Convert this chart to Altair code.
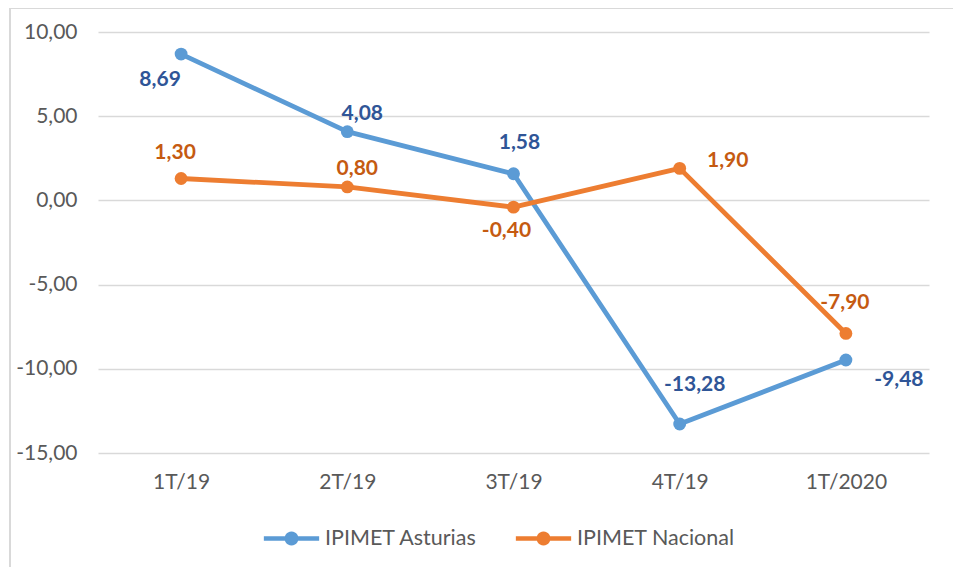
import math
import altair as alt
import pandas as pd

quarters = ["1T/19", "2T/19", "3T/19", "4T/19", "1T/2020"]
asturias = [8.69, 4.08, 1.58, -13.28, -9.48]
nacional = [1.30, 0.80, -0.40, 1.90, -7.90]
series_names = ["IPIMET Asturias", "IPIMET Nacional"]
y_ticks = [-15, -10, -5, 0, 5, 10]

line_colors = ["#5B9BD5", "#ED7D31"]
label_colors = ["#2F5597", "#C55A11"]
FONT = "Lato"

rows = []
for s, vals in zip(series_names, [asturias, nacional]):
    for i, (q, v) in enumerate(zip(quarters, vals)):
        rows.append({"series": s, "quarter": q, "value": v, "idx": i,
                     "label": f"{v:.2f}".replace(".", ",")})
df = pd.DataFrame(rows)

# label placements (dx, dy) relative to each point, per series
placements = {
    "IPIMET Asturias": [(-21, 26), (15, -18), (6, -31), (15, -39), (53, 20)],
    "IPIMET Nacional": [(-6, -26), (10, -18), (-7, 24), (48, -7), (-1, -30)],
}

base = alt.Chart(df)

x_enc = alt.X("quarter:N", sort=quarters, title=None,
              scale=alt.Scale(type="point", padding=0.5),
              axis=alt.Axis(labelAngle=0, domain=False, ticks=False, grid=False,
                            labelFontSize=21, labelColor="#595959", labelFont=FONT,
                            labelPadding=18))
y_enc = alt.Y("value:Q", title=None,
              scale=alt.Scale(domain=[-15, 10], nice=False, zero=False),
              axis=alt.Axis(values=y_ticks, domain=False, ticks=False, grid=True,
                            gridColor="#d9d9d9", gridWidth=1.5,
                            labelFontSize=21, labelColor="#595959", labelFont=FONT,
                            labelPadding=21,
                            labelExpr="replace(replace(format(datum.value, '.2f'), '.', ','), '\u2212', '-')"))

lines = [
    base.transform_filter(f"datum.series == '{s}'")
    .mark_line(strokeWidth=4.8, strokeCap="round", strokeJoin="round", color=c)
    .encode(x=x_enc, y=y_enc)
    for s, c in zip(series_names, line_colors)
]

# legend symbol: a short thick line with a dot in the middle (unit box [-1, 1])
r = 0.245
circle_pts = [(r * math.cos(2 * math.pi * k / 24), r * math.sin(2 * math.pi * k / 24)) for k in range(24)]
circle_path = "M" + "L".join(f"{px:.4f},{py:.4f}" for px, py in circle_pts) + "Z"
sym_path = ("M-0.97,-0.08L-0.2,-0.08L-0.2,0.08L-0.97,0.08Z "
            "M0.2,-0.08L0.97,-0.08L0.97,0.08L0.2,0.08Z " + circle_path)

points = base.mark_circle(size=165, opacity=1).encode(
    x=x_enc, y=y_enc,
    color=alt.Color("series:N", scale=alt.Scale(domain=series_names, range=line_colors),
                    legend=alt.Legend(title=None, orient="none", legendX=165, legendY=478,
                                      direction="horizontal", symbolType=sym_path,
                                      symbolSize=3249, symbolStrokeWidth=0, symbolOpacity=1,
                                      labelFontSize=21.5, labelColor="#595959", labelFont=FONT,
                                      labelOffset=5, columnPadding=37)),
)

texts = []
for si, s in enumerate(series_names):
    for i, (dx, dy) in enumerate(placements[s]):
        texts.append(
            base.transform_filter(f"datum.series == '{s}' && datum.idx == {i}")
            .mark_text(font=FONT, fontSize=21, fontWeight="bold", color=label_colors[si],
                       dx=dx, dy=dy, align="center", baseline="middle")
            .encode(x=x_enc, y=y_enc, text="label:N")
        )

frame = alt.Chart(pd.DataFrame({"a": [0]})).mark_rect(
    fill="transparent", stroke="#d9d9d9", strokeWidth=2
).encode(x=alt.value(-88), x2=alt.value(1100), y=alt.value(-24), y2=alt.value(700))

chart = alt.layer(frame, *lines, points, *texts).properties(
    width=831, height=421,
    autosize=alt.AutoSizeParams(type="none"),
    padding={"left": 90, "top": 24, "right": 24, "bottom": 114},
    background="white",
).configure_view(strokeWidth=0, stroke="transparent")

chart.save("out.html", embed_options={"renderer": "svg", "actions": False})
